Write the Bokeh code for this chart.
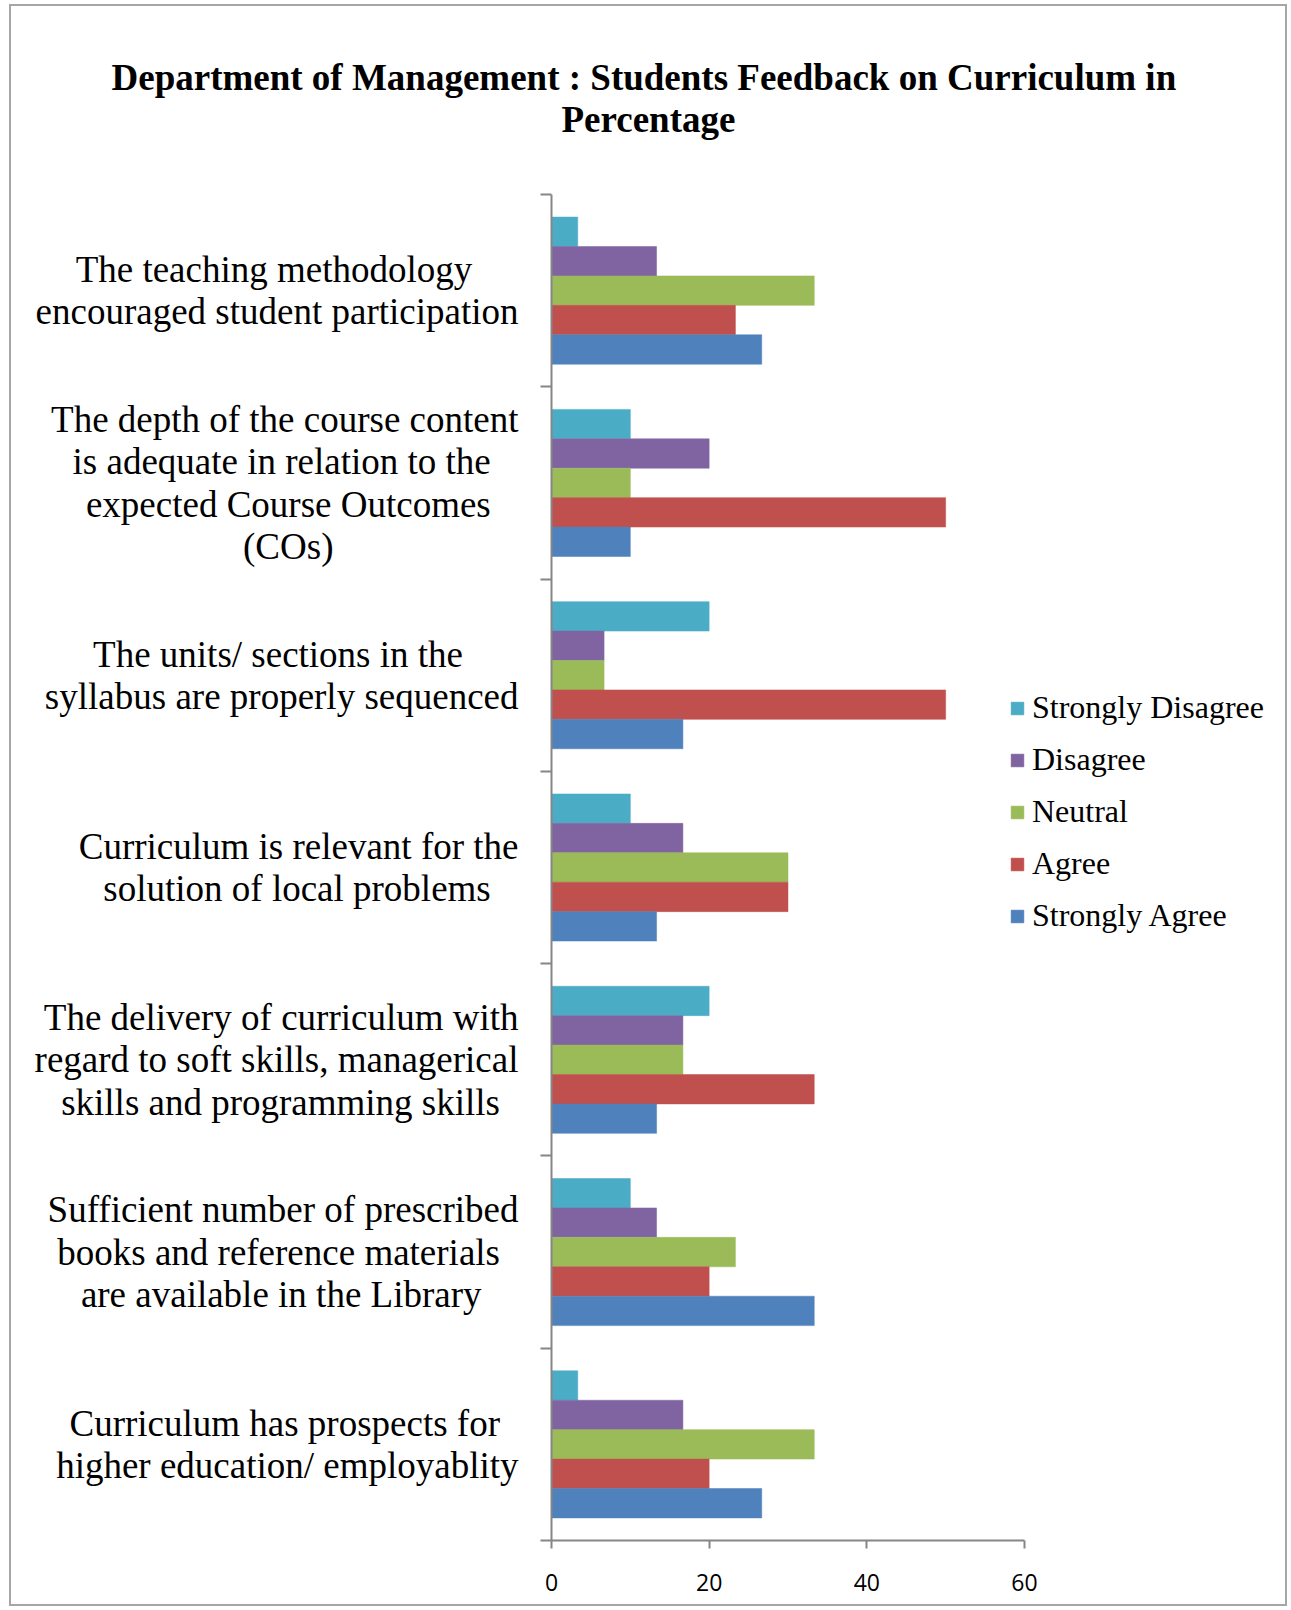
from bokeh.plotting import figure
from bokeh.models import Range1d, FixedTicker, Legend, LegendItem, ColumnDataSource, Title
from bokeh.transform import dodge
from bokeh.embed import file_html
from bokeh.resources import INLINE

categories = [
    "The teaching methodology\nencouraged student participation",
    "The depth of the course content\nis adequate in relation to the\nexpected Course Outcomes\n(COs)",
    "The units/ sections in the\nsyllabus are properly sequenced",
    "Curriculum is relevant for the\nsolution of local problems",
    "The delivery of curriculum with\nregard to soft skills, managerical\nskills and programming skills",
    "Sufficient number of prescribed\nbooks and reference materials\nare available in the Library",
    "Curriculum has prospects for\nhigher education/ employablity",
]
strongly_disagree = [3.33, 10, 20, 10, 20, 10, 3.33]
disagree = [13.33, 20, 6.67, 16.67, 16.67, 13.33, 16.67]
neutral = [33.33, 10, 6.67, 30, 16.67, 23.33, 33.33]
agree = [23.33, 50, 50, 30, 33.33, 20, 20]
strongly_agree = [26.67, 10, 16.67, 13.33, 13.33, 33.33, 26.67]
series_names = ["Strongly Disagree", "Disagree", "Neutral", "Agree", "Strongly Agree"]
series_colors = ["#4BACC6", "#8064A2", "#9BBB59", "#C0504D", "#4F81BD"]
x_ticks = [0, 20, 40, 60]
x_max = 60
title_line1 = "Department of Management : Students Feedback on Curriculum in"
title_line2 = "Percentage"

# Times-metric advance widths (per 1000 em), used only to centre the lines of
# the multi-line axis labels (Bokeh right-aligns them on a left axis).
_W = dict(zip(" ()/,.-", [250, 333, 333, 278, 250, 250, 333]))
_W.update(zip("ABCDEFGHIJKLMNOPQRSTUVWXYZ",
              [722, 667, 667, 722, 611, 556, 722, 722, 333, 389, 722, 611, 889,
               722, 722, 556, 722, 667, 556, 611, 722, 722, 944, 722, 722, 611]))
_W.update(zip("abcdefghijklmnopqrstuvwxyz",
              [444, 500, 444, 500, 444, 333, 500, 500, 278, 278, 500, 278, 778,
               500, 500, 500, 500, 333, 389, 278, 500, 500, 722, 500, 500, 444]))


def centred(label):
    lines = label.split("\n")
    widths = [sum(_W.get(c, 500) for c in ln) for ln in lines]
    mw = max(widths)
    out = []
    for ln, w in zip(lines, widths):
        k = int(round((mw - w) / 2 / 250))
        out.append(ln + "\u00a0" * k)
    return "\n".join(out)


n = len(categories)
pos = [n - i for i in range(n)]
source = ColumnDataSource(dict(
    pos=pos, sd=strongly_disagree, d=disagree, ne=neutral, a=agree, sa=strongly_agree,
))
cols = ["sd", "d", "ne", "a", "sa"]

bar_h = 0.153
W, H = 1278, 1602
left_b, top_b, bottom_b = 540, 188, 68
frame_w = W - left_b
unit_px = 473 / x_max
x_end = frame_w / unit_px

p = figure(width=W, height=H, output_backend="svg", toolbar_location=None,
           x_range=Range1d(0, x_end), y_range=Range1d(0.5, n + 0.5),
           min_border_left=left_b, min_border_right=0, min_border_top=top_b,
           min_border_bottom=bottom_b, background_fill_color="white",
           border_fill_color="white")
p.title.visible = False
p.outline_line_color = None
p.grid.visible = False

renderers = []
for k, (col, color) in enumerate(zip(cols, series_colors)):
    off = (2 - k) * bar_h
    r = p.hbar(y=dodge("pos", off), right=col, left=0, height=bar_h, source=source,
               fill_color=color, line_color=color, line_width=0.5)
    renderers.append(r)

gray = "#868686"
xa = p.xaxis[0]
xa.bounds = (0, x_max)
xa.ticker = FixedTicker(ticks=x_ticks)
xa.axis_line_color = gray
xa.axis_line_width = 2
xa.major_tick_line_color = gray
xa.major_tick_line_width = 2
xa.major_tick_out = 8
xa.major_tick_in = 0
xa.minor_tick_line_color = None
xa.major_label_text_font = "Open Sans"
xa.major_label_text_font_size = "23px"
xa.major_label_text_color = "black"
xa.major_label_standoff = 25

ya = p.yaxis[0]
ya.ticker = FixedTicker(ticks=pos, minor_ticks=[k + 0.5 for k in range(n + 1)])
ya.major_label_overrides = {pv: centred(lab) for pv, lab in zip(pos, categories)}
ya.axis_line_color = gray
ya.axis_line_width = 2
ya.major_tick_line_color = None
ya.major_tick_out = 11
ya.major_tick_in = 0
ya.minor_tick_line_color = gray
ya.minor_tick_line_width = 2
ya.minor_tick_out = 11
ya.minor_tick_in = 0
ya.major_label_text_font = "Liberation Serif"
ya.major_label_text_font_size = "37px"
ya.major_label_text_color = "black"
ya.major_label_text_line_height = 1.03
ya.major_label_standoff = 22

legend = Legend(
    items=[LegendItem(label=nm, renderers=[r]) for nm, r in zip(series_names, renderers)],
    location=(458, 606),
    glyph_width=16, glyph_height=16, label_height=36, spacing=15,
    padding=0, margin=0, border_line_color=None, background_fill_alpha=0,
    label_standoff=7, label_text_font="Liberation Serif", label_text_font_size="32px",
    label_text_color="black",
)
p.add_layout(legend)

t2 = Title(text=title_line2, align="left", offset=10, text_font="Liberation Serif",
           text_font_size="37px", text_font_style="bold", text_color="black", standoff=110)
t1 = Title(text=title_line1, align="left", offset=-440, text_font="Liberation Serif",
           text_font_size="37px", text_font_style="bold", text_color="black", standoff=-112)
p.add_layout(t2, "above")
p.add_layout(t1, "above")

p.styles = {"border": "2px solid #a6a6a6", "margin-left": "9px", "margin-top": "4px"}

open("out.html", "w").write(file_html(p, INLINE))
